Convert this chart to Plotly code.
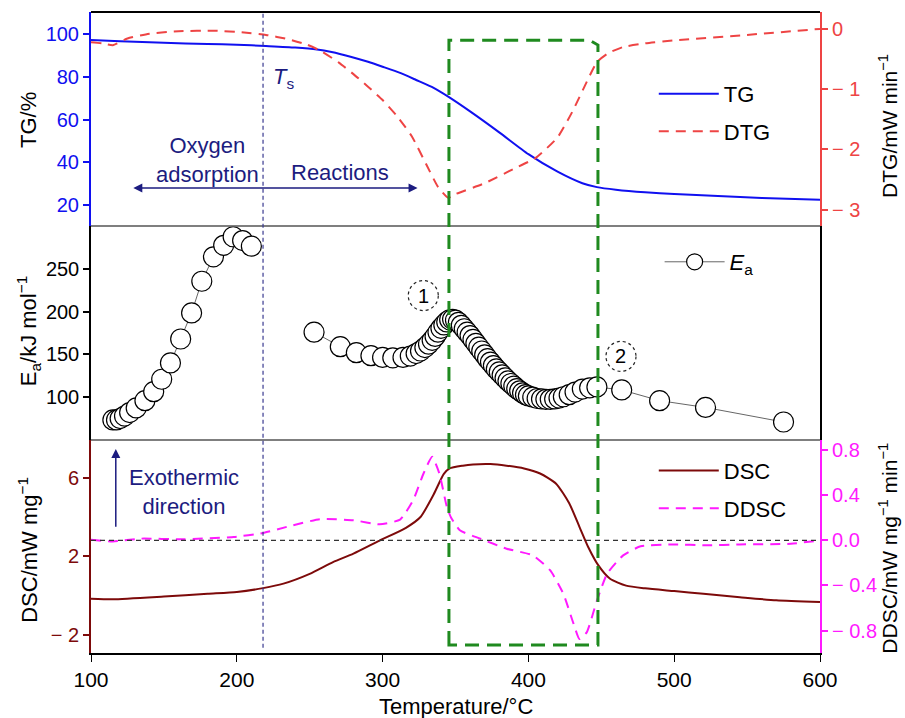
import plotly.graph_objects as go

# ---- thermogravimetric data (TG, %) and its derivative (DTG, mW/min) ----
tg_temp = [100, 120, 150, 180, 200, 220, 240, 255, 265, 278, 290, 300, 312, 323, 335, 345,
           360, 380, 400, 420, 437, 447, 460, 480, 500, 530, 560, 600]
tg = [97.2, 96.6, 95.9, 95.3, 95.0, 94.4, 93.7, 92.8, 91.6, 89.4, 87.0, 84.7, 81.8, 78.5, 74.8, 70.7,
      63.8, 54.0, 43.8, 35.6, 30.2, 28.4, 27.2, 26.0, 25.2, 24.2, 23.3, 22.5]

dtg_temp = [100, 108, 115, 125, 140, 160, 185, 205, 220, 235, 248, 258, 270, 280, 290, 300, 310,
            320, 330, 338, 345, 350, 370, 390, 405, 420, 430, 440, 447, 455, 465, 480, 500, 550, 600]
dtg = [-0.22, -0.24, -0.27, -0.16, -0.08, -0.04, -0.03, -0.06, -0.10, -0.17, -0.26, -0.37, -0.56,
       -0.75, -0.96, -1.18, -1.45, -1.78, -2.25, -2.62, -2.80, -2.74, -2.56, -2.32, -2.14, -1.80,
       -1.38, -0.88, -0.55, -0.40, -0.30, -0.24, -0.19, -0.10, 0.0]

# ---- activation energy (kJ/mol), two temperature ranges ----
ea_temp_low = [115, 117.5, 120, 123, 126.5, 131, 137, 143, 148.5, 154.5, 161.5, 169, 176, 184,
               191, 197.5, 204, 210]
ea_low = [73.5, 73.5, 75, 78, 82, 87.5, 96, 106.5, 121, 140, 168, 198.5, 235.5, 264,
          277.5, 287.5, 283, 276.5]

ea_temp_high = [253, 271, 282, 292, 300, 307, 314, 319, 323, 326, 329, 331.5, 334, 336, 338, 340,
                342, 344, 346, 348, 350, 352, 354, 356, 358, 360, 362, 364, 366, 368, 370, 372,
                374, 376, 378, 380, 382, 384, 386, 388, 390, 392, 394, 396, 398, 400, 403, 406,
                409, 412, 415, 418, 421, 424, 428, 432, 437, 442, 447, 464, 490, 521.5, 575]
ea_high = [176, 159, 152, 148.5, 146.5, 146, 146.5, 148, 151, 154, 158, 162, 166.5, 171, 176, 180.5,
           184.5, 188, 190.5, 191, 190, 187.5, 184, 180, 176, 172, 167.5, 163, 158.5, 154, 149.5, 145,
           141, 137, 133, 129.5, 126, 122.5, 119, 116, 113, 110, 107.5, 105, 103, 101.5, 100, 98.5,
           98, 97.5, 97.5, 98, 99, 100.5, 103, 106, 109.5, 111, 112, 108.5, 96, 88, 71]

# ---- DSC (mW/mg) and its derivative (DDSC, mW/mg/min) ----
dsc_temp = [100, 115, 150, 180, 200, 218, 232, 250, 266, 280, 298, 316, 326, 335, 342, 346, 355,
            362, 374, 385, 397, 408, 419, 428, 435, 441, 448, 456, 467, 480, 500, 520, 545, 570, 600]
dsc = [-0.17, -0.20, -0.06, 0.08, 0.17, 0.37, 0.60, 1.10, 1.70, 2.13, 2.80, 3.45, 4.00, 5.15, 6.20,
       6.48, 6.62, 6.68, 6.70, 6.62, 6.48, 6.22, 5.70, 4.70, 3.50, 2.47, 1.53, 0.85, 0.50, 0.36,
       0.22, 0.08, -0.09, -0.25, -0.34]

ddsc_temp = [100, 115, 134, 163, 198, 218, 236, 257, 280, 298, 312, 321, 328, 334, 339, 344, 347,
             353, 367, 385, 403, 415, 424, 431, 435, 440, 447, 454, 465, 477, 500, 522, 545, 580, 600]
ddsc = [0.006, -0.01, 0.015, 0.01, 0.03, 0.065, 0.125, 0.187, 0.178, 0.142, 0.184, 0.356, 0.59,
        0.74, 0.59, 0.30, 0.20, 0.089, 0.015, -0.074, -0.133, -0.267, -0.474, -0.74, -0.874,
        -0.815, -0.533, -0.296, -0.133, -0.053, -0.036, -0.044, -0.036, -0.03, 0.0]

# ---- tick labels ----
x_ticks = [100, 200, 300, 400, 500, 600]
tg_ticks = [20, 40, 60, 80, 100]
dtg_ticks = [0, -1, -2, -3]
dtg_ticktext = ["0", "\u2212 1", "\u2212 2", "\u2212 3"]
ea_ticks = [100, 150, 200, 250]
dsc_ticks = [-2, 2, 6]
dsc_ticktext = ["\u2212 2", "2", "6"]
ddsc_ticks = [-0.8, -0.4, 0.0, 0.4, 0.8]
ddsc_ticktext = ["\u2212 0.8", "\u2212 0.4", "0.0", "0.4", "0.8"]

# characteristic temperatures
T_S = 218
BOX_LEFT, BOX_RIGHT, BOX_CORNER = 345.5, 447.7, 442.0

BLUE = "#1010f0"
RED = "#ee4444"
MAROON = "#7d0a0a"
MAGENTA = "#ff1aff"
NAVY = "#1c1c80"
GREEN = "#1f8a1f"
FONT = "Liberation Sans, Arial, sans-serif"

fig = go.Figure()

fig.add_trace(go.Scatter(x=tg_temp, y=tg, name="TG", mode="lines",
                         line=dict(color=BLUE, width=2, shape="spline", smoothing=0.6),
                         xaxis="x", yaxis="y", legend="legend", legendgroup="tg"))
fig.add_trace(go.Scatter(x=dtg_temp, y=dtg, name="DTG", mode="lines",
                         line=dict(color=RED, width=2, dash="10px,7px", shape="spline", smoothing=0.5),
                         xaxis="x", yaxis="y2", legend="legend", legendgroup="dtg"))

ea_style = dict(mode="lines+markers", line=dict(color="#666666", width=1),
                marker=dict(symbol="circle", size=20, color="white", line=dict(color="black", width=1.2)))
fig.add_trace(go.Scatter(x=ea_temp_low, y=ea_low, name="<i>E</i><sub>a</sub>", xaxis="x", yaxis="y3",
                         legend="legend2", **ea_style))
fig.add_trace(go.Scatter(x=ea_temp_high, y=ea_high, name="Ea", xaxis="x", yaxis="y3",
                         showlegend=False, **ea_style))

fig.add_trace(go.Scatter(x=dsc_temp, y=dsc, name="DSC", mode="lines",
                         line=dict(color=MAROON, width=2, shape="spline", smoothing=0.6),
                         xaxis="x", yaxis="y4", legend="legend3", legendgroup="dsc"))
fig.add_trace(go.Scatter(x=ddsc_temp, y=ddsc, name="DDSC", mode="lines",
                         line=dict(color=MAGENTA, width=2, dash="10px,7px", shape="spline", smoothing=0.5),
                         xaxis="x", yaxis="y5", legend="legend3", legendgroup="ddsc"))

top_dom = [0.6661, 1.0]
mid_dom = [0.3323, 0.6661]
bot_dom = [0.0, 0.3323]


def yax(color, **kw):
    d = dict(showgrid=False, zeroline=False, showline=True, linecolor=color, linewidth=2,
             ticks="outside", ticklen=6, tickwidth=1.5, tickcolor=color, automargin=False,
             tickfont=dict(color=color, size=20, family=FONT))
    d.update(kw)
    return d


layout = dict(
    width=905, height=718,
    margin=dict(l=91, r=85, t=12, b=65, autoexpand=False),
    paper_bgcolor="white", plot_bgcolor="white",
    font=dict(family=FONT, size=20, color="black"),
    xaxis=dict(domain=[0, 1], anchor="y4", range=[100, 600], tickvals=x_ticks, automargin=False,
               showgrid=False, zeroline=False, showline=True, linecolor="black", linewidth=1.5,
               ticks="outside", ticklen=7, tickcolor="black", tickfont=dict(size=21)),
    yaxis=yax(BLUE, domain=top_dom, anchor="x", range=[10.2, 110.3], tickvals=tg_ticks),
    yaxis2=yax(RED, overlaying="y", side="right", anchor="x", range=[-3.27, 0.28],
               tickvals=dtg_ticks, ticktext=dtg_ticktext),
    yaxis3=yax("black", domain=mid_dom, anchor="x", range=[50, 300], tickvals=ea_ticks,
               mirror=True, linewidth=1.5),
    yaxis4=yax(MAROON, domain=bot_dom, anchor="x", range=[-2.94, 7.93], tickvals=dsc_ticks,
               ticktext=dsc_ticktext),
    yaxis5=yax(MAGENTA, overlaying="y4", side="right", anchor="x", range=[-0.998, 0.889],
               tickvals=ddsc_ticks, ticktext=ddsc_ticktext),
    legend=dict(x=0.772, y=0.905, xanchor="left", yanchor="top", bgcolor="rgba(0,0,0,0)",
                font=dict(size=22), tracegroupgap=6, itemwidth=60),
    legend2=dict(x=0.78, y=0.61, xanchor="left", yanchor="middle", bgcolor="rgba(0,0,0,0)",
                 font=dict(size=22), itemwidth=60),
    legend3=dict(x=0.772, y=0.317, xanchor="left", yanchor="top", bgcolor="rgba(0,0,0,0)",
                 font=dict(size=22), tracegroupgap=6, itemwidth=60),
    showlegend=True,
)
fig.update_layout(**layout)

shapes = []
# panel frames
shapes.append(dict(type="line", xref="paper", yref="paper", x0=0, x1=1, y0=1, y1=1,
                   line=dict(color="black", width=2)))
for yb in (top_dom[0], mid_dom[0]):
    shapes.append(dict(type="line", xref="paper", yref="paper", x0=0, x1=1, y0=yb, y1=yb,
                       line=dict(color="#555555", width=1.5)))
# zero reference of DDSC
shapes.append(dict(type="line", xref="paper", yref="y5", x0=0, x1=1, y0=0, y1=0,
                   line=dict(color="#333333", width=1.2, dash="5px,4px")))
# onset temperature Ts
shapes.append(dict(type="line", xref="x", yref="paper", x0=T_S, x1=T_S, y0=0.008, y1=1,
                   line=dict(color="#3a3a90", width=1.2, dash="4px,3px")))
# main reaction window
shapes.append(dict(type="path", xref="x", yref="paper",
                   path=(f"M {BOX_LEFT},0.0125 L {BOX_LEFT},0.956 L {BOX_CORNER},0.956 "
                         f"L {BOX_RIGHT},0.9485 L {BOX_RIGHT},0.0125 Z"),
                   line=dict(color=GREEN, width=3, dash="14px,8px")))
# circled stage markers
for cx, cy in ((327.9, 218.7), (463.5, 147.7)):
    shapes.append(dict(type="circle", xref="x", yref="y3", xsizemode="pixel", ysizemode="pixel",
                       xanchor=cx, yanchor=cy, x0=-15, x1=15, y0=-15, y1=15,
                       line=dict(color="#222222", width=1.2, dash="3px,3px")))
fig.update_layout(shapes=shapes)

ann = []
# stage numbers
ann.append(dict(x=327.9, y=218.7, xref="x", yref="y3", text="1", showarrow=False, font=dict(size=20)))
ann.append(dict(x=463.5, y=147.7, xref="x", yref="y3", text="2", showarrow=False, font=dict(size=20)))
# Ts label
ann.append(dict(x=231.7, y=79.4, xref="x", yref="y", text="<i>T</i><sub>s</sub>", showarrow=False,
                font=dict(size=22, color=NAVY)))
# process regions
ann.append(dict(x=179.6, y=41, xref="x", yref="y", text="Oxygen<br>adsorption", showarrow=False,
                font=dict(size=22, color=NAVY)))
ann.append(dict(x=270.8, y=35.4, xref="x", yref="y", text="Reactions", showarrow=False,
                font=dict(size=22, color=NAVY)))
ann.append(dict(x=324, y=28, xref="x", yref="y", ax=128, ay=28, axref="x", ayref="y", text="",
                showarrow=True, arrowhead=2, startarrowhead=2, arrowside="end+start",
                arrowsize=1.2, startarrowsize=1.2, arrowwidth=1.5, arrowcolor=NAVY))
# exothermic direction
ann.append(dict(x=117, y=7.47, xref="x", yref="y4", ax=117, ay=3.43, axref="x", ayref="y4", text="",
                showarrow=True, arrowhead=2, arrowsize=1.2, arrowwidth=1.5, arrowcolor=NAVY))
ann.append(dict(x=164, y=5.3, xref="x", yref="y4", text="Exothermic<br>direction", showarrow=False,
                font=dict(size=22, color=NAVY)))

# axis titles
def ytitle(text, x, y, size=22):
    return dict(x=x, y=y, xref="paper", yref="paper", text=text, textangle=-90, showarrow=False,
                font=dict(size=size, color="black"), xanchor="center", yanchor="middle")

ann.append(ytitle("TG/%", -0.0864, 0.8315))
ann.append(ytitle("E<sub>a</sub>/kJ mol<sup>\u22121</sup>", -0.0864, 0.502))
ann.append(ytitle("DSC/mW mg<sup>\u22121</sup>", -0.0864, 0.161))
ann.append(ytitle("DTG/mW min<sup>\u22121</sup>", 1.093, 0.822, 21))
ann.append(ytitle("DDSC/mW mg<sup>\u22121</sup> min<sup>\u22121</sup>", 1.093, 0.164, 21))
ann.append(dict(x=0.5, y=-0.0842, xref="paper", yref="paper", text="Temperature/\u00b0C", showarrow=False,
                font=dict(size=22, color="black"), xanchor="center", yanchor="middle"))
fig.update_layout(annotations=ann)

fig.write_html("out.html")
